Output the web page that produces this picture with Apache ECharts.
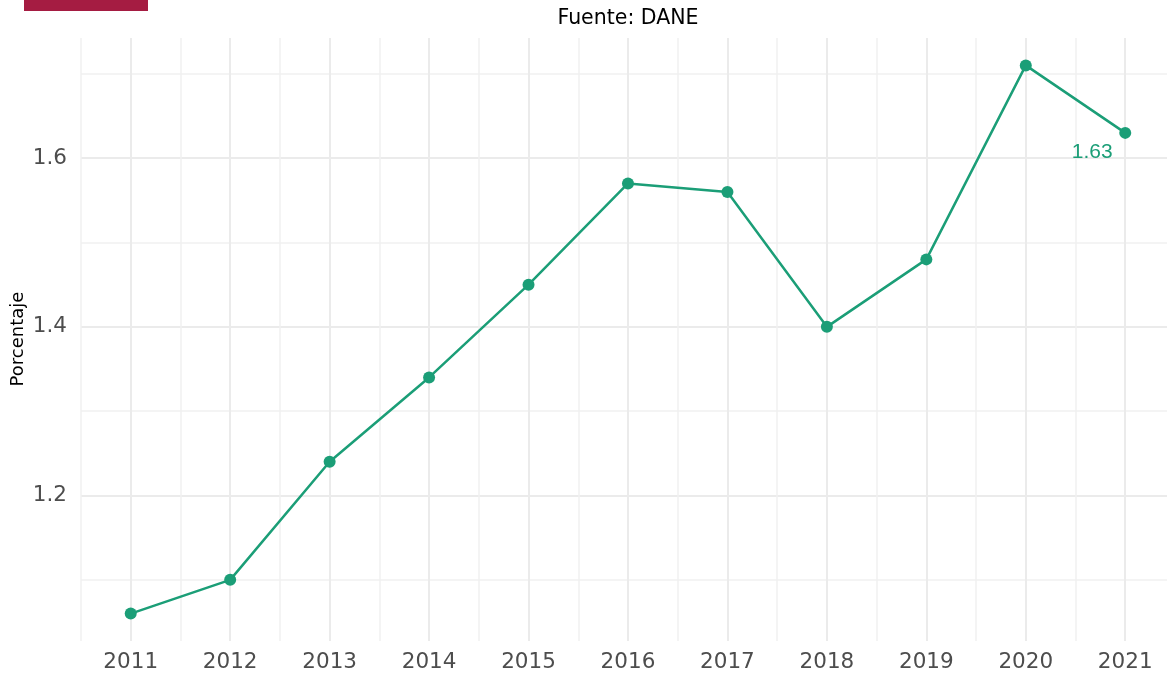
<!DOCTYPE html>
<html><head><meta charset="utf-8">
<script src="https://cdn.jsdelivr.net/npm/echarts@6/dist/echarts.min.js"></script>
<style>html,body{margin:0;padding:0;background:#fff}#c{width:1167px;height:675px}</style>
</head><body><div id="c"></div>
<script>
const years = [2011, 2012, 2013, 2014, 2015, 2016, 2017, 2018, 2019, 2020, 2021];
const values = [1.06, 1.10, 1.24, 1.34, 1.45, 1.57, 1.56, 1.40, 1.48, 1.71, 1.63];
const labeledYear = 2021;
const titleText = 'Fuente: DANE';
const yTitle = 'Porcentaje';
const xMin = 2010.5, xMax = 2021.42;
const yMin = 1.0275, yMax = 1.7425;

const green = '#1b9e77';
const tickFont = 'DejaVu Sans';
const data = years.map((y, i) => {
  const item = { value: [y, values[i]] };
  if (y === labeledYear) {
    item.label = {
      show: true, position: 'inside', offset: [-33, 19],
      formatter: String(values[i]), color: green,
      fontFamily: 'Liberation Sans', fontSize: 21
    };
  }
  return item;
});

const chart = echarts.init(document.getElementById('c'), null, { renderer: 'canvas' });
chart.setOption({
  animation: false,
  backgroundColor: '#fff',
  grid: { left: 81, right: 0, top: 38, bottom: 34, containLabel: false },
  xAxis: [
    { type: 'value', position: 'top', min: xMin, max: xMax, interval: 1,
      axisLine: { show: false }, axisTick: { show: false }, axisLabel: { show: false },
      splitLine: { show: true, showMaxLine: false, lineStyle: { color: '#f0f0f0', width: 1.5 } } },
    { type: 'value', position: 'bottom', min: xMin, max: xMax, interval: 0.5,
      axisLine: { show: false }, axisTick: { show: false },
      axisLabel: { show: true, margin: 10, color: '#4d4d4d', fontFamily: tickFont, fontSize: 21.5,
        showMinLabel: false, showMaxLabel: false,
        formatter: v => (Math.abs(v - Math.round(v)) < 1e-6 ? String(Math.round(v)) : '') },
      splitLine: { show: true, showMaxLine: false,
        lineStyle: { color: ['rgba(0,0,0,0)', '#ebebeb'], width: 2 } } }
  ],
  yAxis: [
    { type: 'value', position: 'right', min: yMin, max: yMax, splitNumber: 7,
      axisLine: { show: false }, axisTick: { show: false }, axisLabel: { show: false },
      splitLine: { show: true, showMinLine: false, showMaxLine: false,
        lineStyle: { color: '#f0f0f0', width: 1.5 } } },
    { type: 'value', position: 'left', min: yMin, max: yMax, splitNumber: 7,
      axisLine: { show: false }, axisTick: { show: false },
      axisLabel: { show: true, margin: 14, color: '#4d4d4d', fontFamily: tickFont, fontSize: 21.5,
        showMinLabel: false, showMaxLabel: false,
        formatter: v => (Math.round(v * 10) % 2 === 0 ? v.toFixed(1) : '') },
      splitLine: { show: true, showMinLine: false, showMaxLine: false,
        lineStyle: { color: ['rgba(0,0,0,0)', '#ebebeb'], width: 2 } } }
  ],
  graphic: [
    { type: 'rect', left: 24, top: 0, shape: { width: 124, height: 11 }, style: { fill: '#a51c42' } },
    { type: 'text', x: 628, y: 19, style: { text: titleText, fill: '#000', font: '20.5px "DejaVu Sans"',
      textAlign: 'center', textVerticalAlign: 'middle' } },
    { type: 'text', x: 18, y: 339, rotation: Math.PI / 2, style: { text: yTitle, fill: '#000',
      font: '18px "DejaVu Sans"', textAlign: 'center', textVerticalAlign: 'middle' } }
  ],
  series: [{
    type: 'line', xAxisIndex: 1, yAxisIndex: 1, data: data,
    lineStyle: { color: green, width: 2.5 }, itemStyle: { color: green },
    symbol: 'circle', symbolSize: 12, showAllSymbol: true, label: { show: false }
  }]
});
</script>
</body></html>
